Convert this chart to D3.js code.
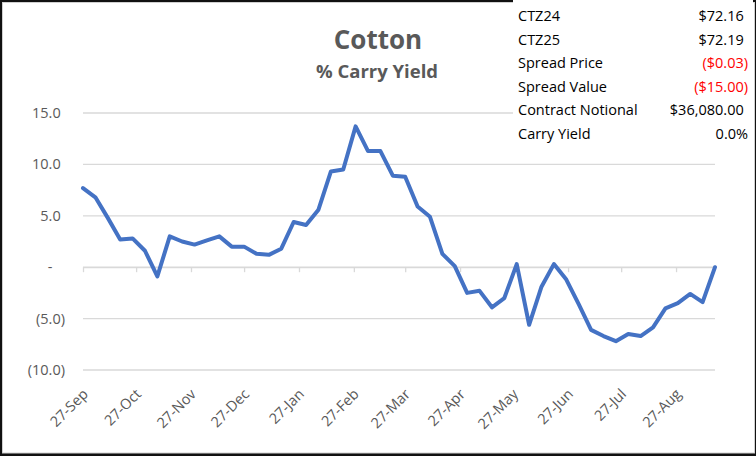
<!DOCTYPE html>
<html>
<head>
<meta charset="utf-8">
<script src="https://cdn.jsdelivr.net/npm/d3@7"></script>
<style>
  html, body { margin: 0; padding: 0; background: #fff; }
  svg { display: block; }
  text { font-family: "Open Sans", "Noto Sans", sans-serif; }
</style>
</head>
<body>
<svg id="chart" width="756" height="456"></svg>
<script>
// ---- data ----
const dates = [
  "2023-09-27","2023-10-04","2023-10-11","2023-10-18","2023-10-25",
  "2023-11-01","2023-11-08","2023-11-15","2023-11-22","2023-11-29",
  "2023-12-06","2023-12-13","2023-12-20","2023-12-27","2024-01-03",
  "2024-01-10","2024-01-17","2024-01-24","2024-01-31","2024-02-07",
  "2024-02-14","2024-02-21","2024-02-28","2024-03-06","2024-03-13",
  "2024-03-20","2024-03-27","2024-04-03","2024-04-10","2024-04-17",
  "2024-04-24","2024-05-01","2024-05-08","2024-05-15","2024-05-22",
  "2024-05-29","2024-06-05","2024-06-12","2024-06-19","2024-06-26",
  "2024-07-03","2024-07-10","2024-07-17","2024-07-24","2024-07-31",
  "2024-08-07","2024-08-14","2024-08-21","2024-08-28","2024-09-04",
  "2024-09-11","2024-09-18"
];
const carryYield = [
  7.7, 6.8, 4.8, 2.7, 2.8,
  1.6, -0.9, 3.0, 2.5, 2.2,
  2.6, 3.0, 2.0, 2.0, 1.3,
  1.2, 1.8, 4.4, 4.1, 5.6,
  9.3, 9.5, 13.7, 11.3, 11.3,
  8.9, 8.8, 5.9, 4.9, 1.3,
  0.1, -2.5, -2.3, -3.9, -3.0,
  0.3, -5.6, -1.9, 0.3, -1.2,
  -3.6, -6.1, -6.7, -7.2, -6.5,
  -6.7, -5.85, -4.0, -3.5, -2.6,
  -3.4, 0.0
];
const xTickDates = [
  "2023-09-27","2023-10-27","2023-11-27","2023-12-27","2024-01-27","2024-02-27",
  "2024-03-27","2024-04-27","2024-05-27","2024-06-27","2024-07-27","2024-08-27"
];
const yTicks = [15, 10, 5, 0, -5, -10];
const tableLabels = ["CTZ24", "CTZ25", "Spread Price", "Spread Value", "Contract Notional", "Carry Yield"];
const tableValues = ["$72.16", "$72.19", "($0.03)", "($15.00)", "$36,080.00", "0.0%"];
const titleText = "Cotton";
const subtitleText = "% Carry Yield";

// ---- drawing ----
const W = 756, H = 456;
const svg = d3.select("#chart");
const parse = d3.timeParse("%Y-%m-%d");
const data = dates.map((d, i) => ({ date: parse(d), value: carryYield[i] }));

// frame
svg.append("rect").attr("x", 0).attr("y", 0).attr("width", W).attr("height", H).attr("fill", "#111");
svg.append("rect").attr("x", 2.5).attr("y", 2.5).attr("width", W - 4).attr("height", H - 5.5)
  .attr("fill", "#fff").attr("stroke", "#d0d0d0").attr("stroke-width", 1);

const x = d3.scaleTime()
  .domain([data[0].date, data[data.length - 1].date])
  .range([83, 715]);
const y = d3.scaleLinear().domain([-10, 15]).range([370, 113]);

const gridColor = "#d9d9d9";
const textGray = "#595959";

// gridlines
svg.append("g").selectAll("line").data(yTicks).join("line")
  .attr("x1", x.range()[0]).attr("x2", x.range()[1])
  .attr("y1", d => y(d)).attr("y2", d => y(d))
  .attr("stroke", gridColor).attr("stroke-width", 1.3);

// x axis (at zero) with ticks
const xAxis = d3.axisBottom(x)
  .tickValues(xTickDates.map(parse))
  .tickSize(5)
  .tickSizeOuter(0)
  .tickFormat(d3.timeFormat("%d-%b"));
const gx = svg.append("g").attr("transform", `translate(0,${y(0)})`).call(xAxis);
gx.select(".domain").attr("stroke", gridColor).attr("stroke-width", 1.3);
gx.selectAll(".tick line").attr("stroke", gridColor).attr("stroke-width", 1.3);
gx.selectAll(".tick text").remove();

// x labels rotated, positioned below plot
svg.append("g").selectAll("text").data(xTickDates.map(parse)).join("text")
  .attr("transform", d => `translate(${x(d) + 6},${395}) rotate(-45)`)
  .attr("text-anchor", "end")
  .attr("fill", textGray)
  .attr("font-size", 14.5)
  .text(d => d3.timeFormat("%d-%b")(d));

// y labels (accounting style)
const yLab = svg.append("g").selectAll("text").data(yTicks).join("text")
  .attr("x", 65)
  .attr("y", d => y(d))
  .attr("dy", "0.35em")
  .attr("text-anchor", "end")
  .attr("fill", textGray)
  .attr("font-size", 14.5);
yLab.each(function(d) {
  const t = d3.select(this);
  if (d === 0) {
    t.append("tspan").text("-");
    t.append("tspan").attr("fill-opacity", 0).text("0)");
  } else if (d < 0) {
    t.append("tspan").text("(" + d3.format(".1f")(-d) + ")");
  } else {
    t.append("tspan").text(d3.format(".1f")(d));
    t.append("tspan").attr("fill-opacity", 0).text(")");
  }
});

// line
const line = d3.line().x(d => x(d.date)).y(d => y(d.value));
svg.append("path").datum(data)
  .attr("d", line)
  .attr("fill", "none")
  .attr("stroke", "#4472C4")
  .attr("stroke-width", 4)
  .attr("stroke-linejoin", "round")
  .attr("stroke-linecap", "round");

// title
svg.append("text").attr("x", 378).attr("y", 49).attr("text-anchor", "middle")
  .attr("font-size", 26).attr("font-weight", "bold").attr("fill", textGray).text(titleText);
svg.append("text").attr("x", 377).attr("y", 78).attr("text-anchor", "middle")
  .attr("font-size", 18.5).attr("font-weight", "bold").attr("fill", textGray).text(subtitleText);

// table overlay
svg.append("rect").attr("x", 513).attr("y", 0).attr("width", 240).attr("height", 146).attr("fill", "#fff");
const rowY = d3.scaleLinear().domain([0, tableLabels.length - 1]).range([21, 139]);
const tbl = svg.append("g");
tbl.selectAll("text.lab").data(tableLabels).join("text").attr("class", "lab")
  .attr("x", 518).attr("y", (d, i) => rowY(i))
  .attr("font-size", 14.5).attr("fill", "#000").text(d => d);
tbl.selectAll("text.val").data(tableValues).join("text").attr("class", "val")
  .attr("x", 748).attr("y", (d, i) => rowY(i))
  .attr("text-anchor", "end")
  .attr("font-size", 14.5)
  .attr("fill", d => d.startsWith("(") ? "#FF0000" : "#000")
  .each(function(d) {
    const t = d3.select(this);
    t.append("tspan").text(d);
    if (d.startsWith("$")) t.append("tspan").attr("fill-opacity", 0).text(")");
  });
</script>
</body>
</html>
